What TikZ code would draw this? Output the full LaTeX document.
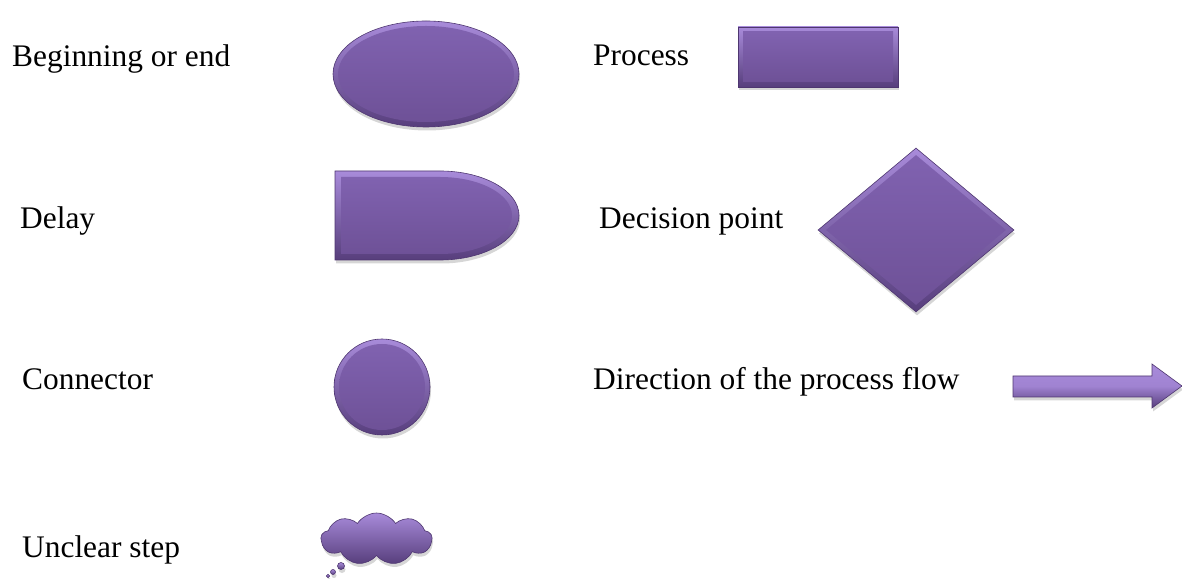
\documentclass[tikz,border=0pt]{standalone}
\usepackage{fontspec}
\setmainfont{Liberation Serif}
\usetikzlibrary{shapes.geometric,shapes.symbols,shadows}

\definecolor{purpLight}{HTML}{A88BDA}
\definecolor{purpDark}{HTML}{573E7C}
\definecolor{purpTop}{HTML}{8062B0}
\definecolor{purpBot}{HTML}{6E5197}
\definecolor{purpLine}{HTML}{4E3670}

\begin{document}
\begin{tikzpicture}[x=1pt,y=1pt,
  legendtext/.style={anchor=base west, inner sep=0pt, font=\fontsize{31.4}{37}\selectfont},
  softshadow/.style={drop shadow={shadow xshift=1pt, shadow yshift=-3.5pt, opacity=.16, fill=black}},
  bevelrim/.style={draw=purpLine, line width=.6pt, top color=purpLight, bottom color=purpDark, inner sep=0pt, softshadow},
  bevelface/.style={top color=purpTop, bottom color=purpBot, inner sep=0pt, draw=none},
]
\useasboundingbox (0,0) rectangle (1182,578);

% labels, left column
\node[legendtext] (tBegin)   at (12,511) {Beginning or end};
\node[legendtext] (tDelay)   at (20,349) {Delay};
\node[legendtext] (tConn)    at (22,188) {Connector};
\node[legendtext] (tUnclear) at (22,21)  {Unclear step};
% labels, right column
\node[legendtext] (tProc) at (593,512) {Process};
\node[legendtext] (tDec)  at (599,349) {Decision point};
\node[legendtext] (tFlow) at (593,188) {Direction of the process flow};

% beginning or end: ellipse
\node[bevelrim, ellipse, minimum width=186pt, minimum height=106pt] (startRim) at (426,504) {};
\node[bevelface, ellipse, minimum width=176pt, minimum height=96pt] (startFace) at (startRim.center) {};

% process: rectangle
\node[bevelrim, rectangle, minimum width=160pt, minimum height=60pt] (procRim) at (818,521) {};
\node[bevelface, rectangle, minimum width=150pt, minimum height=50pt] (procFace) at (procRim.center) {};

% delay: rectangle with rounded right end
\path[bevelrim] (335,407) -- (440,407)
  arc[start angle=90, end angle=-90, x radius=79, y radius=44.5] -- (335,318) -- cycle;
\path[bevelface] (341,401) -- (440,401)
  arc[start angle=90, end angle=-90, x radius=72, y radius=38.5] -- (341,324) -- cycle;

% decision point: diamond
\node[bevelrim, diamond, minimum width=196pt, minimum height=164pt] (decRim) at (916,348) {};
\node[bevelface, diamond, minimum width=180pt, minimum height=150pt] (decFace) at (decRim.center) {};

% connector: circle
\node[bevelrim, circle, minimum size=96pt] (connRim) at (382,191) {};
\node[bevelface, circle, minimum size=86pt] (connFace) at (connRim.center) {};

% direction of flow: block arrow
\coordinate (aTail1) at (1013,202);
\coordinate (aNeck1) at (1152,202);
\coordinate (aHead1) at (1152,214);
\coordinate (aTip)   at (1182,192);
\coordinate (aHead2) at (1152,170);
\coordinate (aNeck2) at (1152,181);
\coordinate (aTail2) at (1013,181);
\path[bevelrim, middle color=purpLight!80!purpTop]
  (aTail1) -- (aNeck1) -- (aHead1) -- (aTip) -- (aHead2) -- (aNeck2) -- (aTail2) -- cycle;

% unclear step: thought cloud with trailing bubbles
\node[bevelrim, cloud, cloud puffs=9, cloud puff arc=115, aspect=2.1,
      minimum width=111pt, minimum height=52pt] (cloudRim) at (376.5,39) {};
\node[bevelrim, circle, minimum size=7pt] (bubA) at (341,12) {};
\node[bevelrim, circle, minimum size=5pt] (bubB) at (333,6) {};
\node[bevelrim, circle, minimum size=3.5pt] (bubC) at (328,2) {};
\end{tikzpicture}
\end{document}
